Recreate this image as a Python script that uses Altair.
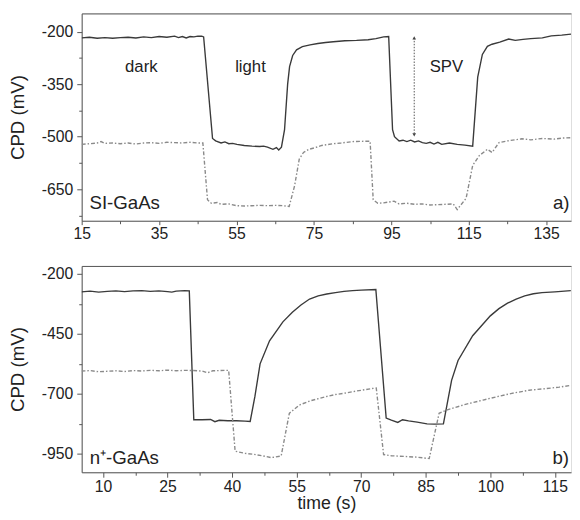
import altair as alt
import pandas as pd

# ---------- panel a) SI-GaAs ----------
a_solid_t = [15, 17, 19, 21, 23, 25, 27, 29, 31, 33, 35, 37, 39, 40, 41, 42, 43, 44, 45, 46, 46.5,
             48.8, 49.6, 51, 52, 53, 54, 55.1, 57, 59, 61, 62, 63, 64.4, 65.3, 65.9, 66.6, 67.4, 68.2, 68.7,
             69.5, 70.5, 72, 74, 76, 78, 80, 83, 86, 89, 91, 93, 94.3,
             95.3, 95.8, 97, 98, 99, 100, 101, 102, 103, 104, 105, 106, 107, 108, 110, 112, 114, 116,
             117.3, 118.5, 119.8, 121, 123, 125.3, 127, 129, 131, 134, 136.3, 139, 141.4]
a_solid_v = [-218, -216, -219, -217, -219, -217, -216, -218, -215, -217, -214, -216, -213, -217, -214, -218, -214, -215, -213, -213, -215,
             -505, -512, -518, -515, -520, -519, -522, -525, -527, -528, -527, -530, -536, -531, -538, -530, -480, -350, -300,
             -268, -252, -243, -238, -234, -231, -229, -226, -225, -223, -220, -215, -214,
             -480, -500, -512, -510, -514, -510, -515, -512, -517, -519, -516, -521, -516, -522, -518, -522, -524, -527,
             -330, -265, -242, -236, -230, -221, -225, -222, -220, -218, -212, -210, -207]

a_dash_t = [15, 17, 19, 20, 21, 23, 25, 27, 29, 31, 33, 35, 37, 39, 41, 43, 45, 46.3,
            47.5, 48.5, 50, 51, 53, 55, 57, 59, 61, 63, 65, 67, 68.6,
            70, 71.2, 72.3, 73.7, 75.4, 77, 80, 82, 85, 88, 89.5,
            90.3, 91.5, 93, 95.7, 97, 99, 101, 103, 105, 107, 109, 111,
            112, 114.3, 116, 117.7, 119.8, 121, 122.8, 125, 128.7, 131, 134, 137, 139, 141.4]
a_dash_v = [-522, -520, -518, -514, -519, -518, -520, -518, -521, -518, -517, -519, -516, -517, -518, -516, -518, -518,
            -680, -690, -688, -693, -692, -697, -698, -697, -696, -697, -696, -697, -699,
            -640, -564, -545, -536, -531, -525, -520, -518, -514, -513, -513,
            -680, -690, -689, -684, -692, -690, -693, -692, -695, -694, -693, -692,
            -708, -676, -582, -554, -536, -545, -517, -512, -506, -509, -505, -507, -504, -503]

# ---------- panel b) n+-GaAs ----------
b_solid_t = [5, 7, 9, 11, 13, 15, 17, 19, 21, 23, 25, 26, 27, 29, 30.05,
             31.1, 33, 35, 36, 37, 39, 41, 43, 44.2,
             45.3, 46.5, 48.7, 51.8, 54, 56, 58, 60, 62, 64, 66, 68, 70, 73.4,
             75.8, 77, 78.5, 79.6, 81, 83, 85.3, 87, 89.1,
             91, 92.5, 95.9, 98, 100, 102, 104, 106, 108, 110, 112, 115, 118.7]
b_solid_v = [-275, -272, -276, -273, -271, -274, -271, -270, -273, -271, -274, -276, -272, -270, -271,
             -808, -808, -807, -816, -810, -812, -812, -814, -815,
             -711, -575, -479, -400, -360, -330, -305, -292, -284, -278, -273, -270, -268, -265,
             -801, -810, -819, -808, -813, -818, -825, -826, -825,
             -644, -561, -458, -415, -375, -345, -322, -305, -292, -283, -278, -275, -270]

b_dash_t = [5, 7, 9, 11, 13, 15, 17, 19, 21, 23, 25, 27, 29, 31, 33, 34.3, 35.5, 37, 39.2,
            40.7, 43, 45, 47, 49.1, 51.4,
            53.3, 55.6, 58, 61.7, 64, 66.6, 69, 72.5, 73.5,
            75.2, 77, 79, 81, 83, 85.8,
            88.1, 90, 94, 98.3, 102, 105, 109, 113, 116, 119]
b_dash_v = [-605, -603, -608, -606, -604, -607, -603, -605, -602, -604, -601, -604, -602, -603, -605, -612, -604, -603, -602,
            -939, -948, -952, -958, -966, -959,
            -781, -747, -730, -712, -703, -696, -688, -678, -676,
            -953, -958, -960, -962, -964, -970,
            -781, -767, -745, -726, -710, -698, -685, -678, -672, -664]

# annotations
a_lab_t = [30.4, 58.6, 109.2]
a_lab_v = [-302, -302, -302]
a_lab_s = ["dark", "light", "SPV"]
arrow_t = [100.9]
arrow_top = [-218]
arrow_bot = [-495]

FONT = "Liberation Sans"
LINE_DARK = "#3a3a3a"
LINE_GRAY = "#8a8a8a"
AX = "#555555"
HYPHEN_LABEL = "datum.value < 0 ? '-' + abs(datum.value) : '' + datum.value"


def axes(xvals, xminor, yvals, yminor, xdom, ydom, xtick, xpad):
    xs = alt.Scale(domain=xdom, nice=False, zero=False)
    ys = alt.Scale(domain=ydom, nice=False, zero=False)
    xmaj = alt.Axis(orient="bottom", values=xvals, tickSize=xtick, labelPadding=xpad, grid=False,
                    domainColor=AX, tickColor=AX, labelFont=FONT, labelFontSize=16,
                    labelColor="#222", titleFont=FONT, titleFontSize=18, titleColor="#222",
                    titleFontWeight="normal", titlePadding=0, labelFlush=False,
                    labelExpr=HYPHEN_LABEL)
    ymaj = alt.Axis(orient="left", values=yvals, tickSize=5, labelPadding=4, grid=False,
                    domainColor=AX, tickColor=AX, labelFont=FONT, labelFontSize=16,
                    labelColor="#222", titleFont=FONT, titleFontSize=19, titleColor="#222",
                    titleFontWeight="normal", titlePadding=14, labelFlush=False,
                    labelExpr=HYPHEN_LABEL)
    xmin = alt.Axis(orient="bottom", values=xminor, tickSize=3, labels=False, domain=False,
                    grid=False, tickColor=AX, title=None)
    ymin = alt.Axis(orient="left", values=yminor, tickSize=3, labels=False, domain=False,
                    grid=False, tickColor=AX, title=None)
    xtop = alt.Axis(orient="top", ticks=False, labels=False, domain=True, grid=False,
                    domainColor=AX, title=None)
    return xs, ys, xmaj, ymaj, xmin, ymin, xtop


def panel(solid_t, solid_v, dash_t, dash_v, xvals, xminor, yvals, yminor, xdom, ydom,
          xtitle, tag_t, tag_v, tag, corner_t, corner, extra, w, h, xtick, xpad):
    xs, ys, xmaj, ymaj, xmin, ymin, xtop = axes(xvals, xminor, yvals, yminor, xdom, ydom,
                                                xtick, xpad)
    dsolid = pd.DataFrame({"t": solid_t, "v": solid_v})
    ddash = pd.DataFrame({"t": dash_t, "v": dash_v})
    solid = alt.Chart(dsolid).mark_line(color=LINE_DARK, strokeWidth=1.4, clip=True).encode(
        x=alt.X("t:Q", scale=xs, axis=xmaj, title=xtitle),
        y=alt.Y("v:Q", scale=ys, axis=ymaj, title="CPD (mV)"),
    )
    dash = alt.Chart(ddash).mark_line(color=LINE_GRAY, strokeWidth=1.4, strokeDash=[4, 2, 1.5, 2],
                                      clip=True).encode(
        x=alt.X("t:Q", scale=xs, axis=xmin),
        y=alt.Y("v:Q", scale=ys, axis=ymin),
    )
    dtag = pd.DataFrame({"t": [tag_t, corner_t], "v": [tag_v, tag_v], "s": [tag, corner]})
    tags_l = alt.Chart(dtag.iloc[[0]]).mark_text(align="left", baseline="middle", font=FONT,
                                                 fontSize=19, color="#222").encode(
        x=alt.X("t:Q", scale=xs, axis=xtop), y=alt.Y("v:Q", scale=ys, axis=None), text="s:N")
    tags_r = alt.Chart(dtag.iloc[[1]]).mark_text(align="right", baseline="middle", font=FONT,
                                                 fontSize=19, color="#222").encode(
        x=alt.X("t:Q", scale=xs, axis=None), y=alt.Y("v:Q", scale=ys, axis=None), text="s:N")
    layers = [solid, dash, tags_l, tags_r] + [l(xs, ys) for l in extra]
    return alt.layer(*layers).resolve_axis(x="independent", y="independent").properties(
        width=w, height=h)


def a_extra_labels(xs, ys):
    d = pd.DataFrame({"t": a_lab_t, "v": a_lab_v, "s": a_lab_s})
    return alt.Chart(d).mark_text(font=FONT, fontSize=17, color="#222", baseline="middle").encode(
        x=alt.X("t:Q", scale=xs, axis=None), y=alt.Y("v:Q", scale=ys, axis=None), text="s:N")


def a_extra_arrow(xs, ys):
    d = pd.DataFrame({"t": arrow_t, "v": arrow_top, "v2": arrow_bot})
    return alt.Chart(d).mark_rule(color="#555", strokeWidth=1, strokeDash=[1.5, 1.5]).encode(
        x=alt.X("t:Q", scale=xs, axis=None), y=alt.Y("v:Q", scale=ys, axis=None), y2="v2:Q")


def a_extra_heads(xs, ys):
    d = pd.DataFrame({"t": arrow_t * 2, "v": arrow_top + arrow_bot,
                      "sh": ["triangle-up", "triangle-down"]})
    return alt.Chart(d).mark_point(filled=True, color="#444", size=14, opacity=1).encode(
        x=alt.X("t:Q", scale=xs, axis=None), y=alt.Y("v:Q", scale=ys, axis=None),
        shape=alt.Shape("sh:N", scale=None, legend=None))


top = panel(a_solid_t, a_solid_v, a_dash_t, a_dash_v,
            [15, 35, 55, 75, 95, 115, 135], [25, 45, 65, 85, 105, 125],
            [-200, -350, -500, -650], [-275, -425, -575, -725],
            [15, 141.4], [-740, -148], None,
            17, -691, "SI-GaAs", 141.0, "a)",
            [a_extra_labels, a_extra_arrow, a_extra_heads], 498, 211, 4, 1)

bottom = panel(b_solid_t, b_solid_v, b_dash_t, b_dash_v,
               [10, 25, 40, 55, 70, 85, 100, 115], [17.5, 32.5, 47.5, 62.5, 77.5, 92.5, 107.5],
               [-200, -450, -700, -950], [-325, -575, -825],
               [5.05, 118.75], [-1027, -167], "time (s)",
               6.9, -969, "n\u207a-GaAs", 118.3, "b)",
               [], 498, 210, 5, 2)

chart = alt.vconcat(top, bottom, spacing=23).properties(
    padding={"left": 0, "top": 0, "right": 0, "bottom": 0}
).configure_view(stroke=None).configure(background="white")

chart.save("out.html", embed_options={"renderer": "svg", "actions": False})
